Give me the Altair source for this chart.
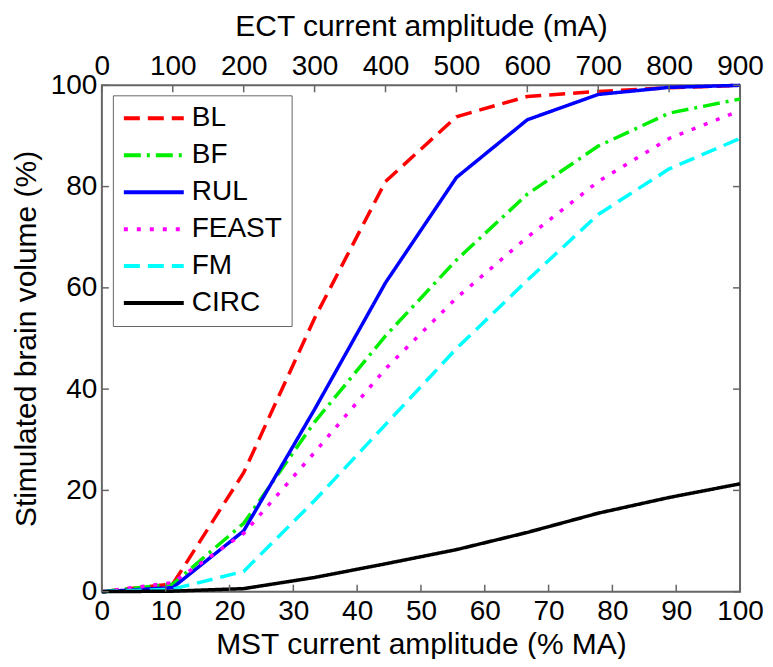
import altair as alt
import pandas as pd

# ---- data ----
mst = [0, 11.11, 22.22, 33.33, 44.44, 55.56, 66.67, 77.78, 88.89, 100]
series_names = ["BL", "BF", "RUL", "FEAST", "FM", "CIRC"]
bl = [0, 1.5, 23.5, 54, 81, 93.8, 97.8, 98.8, 99.5, 100]
bf = [0, 1.5, 13.5, 33.5, 50.5, 65.5, 78.5, 88, 94.5, 97.3]
rul = [0, 0.8, 12, 36, 61, 81.8, 93.2, 98.2, 99.6, 100]
feast = [0, 1.8, 11.5, 27.5, 44, 58, 70, 81, 89.5, 95]
fm = [0, 0.5, 4, 18, 33, 48, 61.5, 74.5, 83.5, 89.5]
circ = [0, 0.1, 0.6, 2.8, 5.5, 8.3, 11.7, 15.5, 18.6, 21.3]

colors = ["#ff0000", "#00ee00", "#0000ff", "#ff00ff", "#00ffff", "#000000"]
dashes = [[16, 8], [17, 6, 3, 6], [1, 0], [4, 9], [16, 8], [1, 0]]

mst_ticks = list(range(0, 101, 10))
ect_ticks = list(range(0, 901, 100))
y_ticks = list(range(0, 101, 20))

rows = []
for name, vals in zip(series_names, [bl, bf, rul, feast, fm, circ]):
    for xv, yv in zip(mst, vals):
        rows.append({"series": name, "mst": xv, "vol": yv})
df = pd.DataFrame(rows)

W, H = 639, 507
FONT = "Liberation Sans"
FRAME = "#666666"

leg = alt.Legend(
    orient="none", legendX=11, legendY=10,
    symbolType="stroke", symbolSize=3600, symbolStrokeWidth=4,
    labelFontSize=28, labelFont=FONT, labelColor="black", labelOffset=6,
    strokeColor=FRAME, fillColor="white", padding=9,
    rowPadding=9, clipHeight=28,
)

x_axis = alt.Axis(orient="bottom", values=mst_ticks, title="MST current amplitude (% MA)",
                  labelPadding=6, titlePadding=4, labelFlush=False)
y_axis = alt.Axis(values=y_ticks, title="Stimulated brain volume (%)",
                  labelPadding=5, titlePadding=9)
x_scale = alt.Scale(domain=[0, 100], nice=False, zero=False)
y_scale = alt.Scale(domain=[0, 100], nice=False)

lines = alt.Chart(df).mark_line(strokeWidth=3.5).encode(
    x=alt.X("mst:Q", scale=x_scale, axis=x_axis),
    y=alt.Y("vol:Q", scale=y_scale, axis=y_axis),
    color=alt.Color("series:N", sort=series_names, title=None,
                    scale=alt.Scale(domain=series_names, range=colors), legend=leg),
    strokeDash=alt.StrokeDash("series:N", sort=series_names, title=None,
                              scale=alt.Scale(domain=series_names, range=dashes), legend=leg),
)

bt = alt.Chart(pd.DataFrame({"mst": mst_ticks})).mark_rule(color=FRAME, strokeWidth=1.5).encode(
    x=alt.X("mst:Q", scale=x_scale, axis=x_axis), y=alt.value(H), y2=alt.value(H - 7))
yt = pd.DataFrame({"vol": y_ticks})
lt = alt.Chart(yt).mark_rule(color=FRAME, strokeWidth=1.5).encode(
    y=alt.Y("vol:Q", scale=y_scale, axis=y_axis), x=alt.value(0), x2=alt.value(7))
rt = alt.Chart(yt).mark_rule(color=FRAME, strokeWidth=1.5).encode(
    y=alt.Y("vol:Q", scale=y_scale, axis=y_axis), x=alt.value(W), x2=alt.value(W - 7))

top = alt.Chart(pd.DataFrame({"ect": ect_ticks})).mark_rule(color=FRAME, strokeWidth=1.5).encode(
    x=alt.X("ect:Q", scale=alt.Scale(domain=[0, 900], nice=False, zero=False),
            axis=alt.Axis(orient="top", values=ect_ticks, title="ECT current amplitude (mA)",
                          labelPadding=5, titlePadding=11, labelFlush=False)),
    y=alt.value(0), y2=alt.value(7))

chart = alt.layer(alt.layer(lines, bt, lt, rt), top).resolve_scale(x="independent").properties(
    width=W, height=H,
    autosize=alt.AutoSizeParams(type="none"),
    padding={"left": 94, "top": 77, "right": 25, "bottom": 67},
).configure_axis(
    labelFont=FONT, titleFont=FONT, labelFontSize=28, titleFontSize=30,
    titleFontWeight="normal", labelColor="black", titleColor="black",
    domain=False, ticks=False, grid=False,
).configure_view(stroke=FRAME, strokeWidth=2)

chart.save("out.html", embed_options={"renderer": "svg", "actions": False})
